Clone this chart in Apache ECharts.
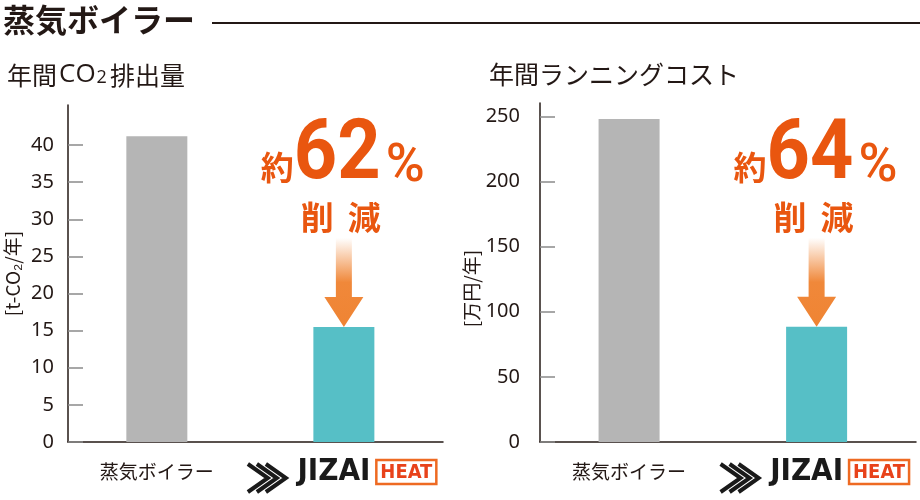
<!DOCTYPE html>
<html><head><meta charset="utf-8">
<script src="https://cdn.jsdelivr.net/npm/echarts@6/dist/echarts.min.js"></script>
<style>html,body{margin:0;padding:0;background:#fff}#c{width:920px;height:500px}</style>
</head><body><div id="c"></div>
<script>
// ---- data ----
const categories = ['蒸気ボイラー', 'JIZAI HEAT'];
const co2Values = [41.2, 15.5];
const costValues = [248, 88.5];
const co2Ticks = [0, 5, 10, 15, 20, 25, 30, 35, 40];
const costTicks = [0, 50, 100, 150, 200, 250];
const reductions = ['62', '64'];
const barColors = ['#b5b5b5', '#56bfc6'];
const mainTitle = '蒸気ボイラー';
const panelTitles = ['年間{c|CO}{s|2}排出量', '年間ランニングコスト'];
const axisNames = ['[t-CO₂/年]', '[万円/年]'];

const JP = '"Noto Sans CJK JP", sans-serif';
const NUM = '"Noto Sans", "Open Sans", sans-serif';
const NARROW = '"Liberation Sans Narrow", "DejaVu Sans Condensed", "Roboto Condensed", Roboto, sans-serif';
const INK = '#231815';
const ORANGE = '#e9560f';

const chart = echarts.init(document.getElementById('c'));

function xAxisCfg(gi) {
  return {
    type: 'value', gridIndex: gi, min: -0.475, max: 1.53,
    axisLine: { show: true, onZero: false, lineStyle: { color: INK, width: 1.5 } },
    axisTick: { show: false },
    splitLine: { show: false },
    axisLabel: {
      customValues: [0, 1], margin: 14,
      formatter: v => {
        const i = Math.round(v);
        return i === 0 ? '{n|' + categories[0] + '}' : '{sp|}{j|JIZAI}{h|HEAT}';
      },
      rich: {
        n: { fontSize: 19, color: INK, fontFamily: JP, lineHeight: 32 },
        sp: { width: 46, height: 32 },
        j: { fontSize: 31, fontWeight: 'bold', color: '#1a1a1a', fontFamily: NARROW, lineHeight: 32, padding: [0, 6, 0, 0] },
        h: { fontSize: 20, fontWeight: 'bold', color: '#e8421a', fontFamily: NARROW, borderColor: '#ee6a22', borderWidth: 2.5, padding: [3, 4, 1, 4], lineHeight: 20 }
      }
    }
  };
}
function yAxisCfg(gi, max, ticks, margin, name, gap, pad) {
  return {
    type: 'value', gridIndex: gi, min: 0, max: max,
    axisLine: { show: true, onZero: false, lineStyle: { color: INK, width: 1.5 } },
    axisTick: { show: true, inside: true, length: 15, customValues: ticks, lineStyle: { color: '#8a8a8a', width: 1.5 } },
    axisLabel: { customValues: ticks, margin: margin, fontSize: 20, color: INK, fontFamily: NUM },
    splitLine: { show: false },
    name: name, nameLocation: 'middle', nameGap: gap,
    nameTextStyle: { fontSize: 19, color: INK, fontFamily: JP, padding: pad }
  };
}
function barSeries(gi, vals) {
  return {
    type: 'bar', xAxisIndex: gi, yAxisIndex: gi, barWidth: 61,
    data: vals.map((v, i) => ({ value: [i, v], itemStyle: { color: barColors[i] } })),
    silent: true
  };
}

const subStyle = {
  fontSize: 25, fontWeight: 'normal', fontFamily: JP, color: INK,
  rich: {
    c: { fontSize: 26, fontFamily: '"Open Sans", "Noto Sans", sans-serif', color: INK, padding: [0, 1, 0, 2] },
    s: { fontSize: 18, fontFamily: '"Open Sans", "Noto Sans", sans-serif', color: INK, padding: [6, 3, 0, 0] }
  }
};
const option = {
  animation: false,
  backgroundColor: '#fff',
  title: [
    { text: mainTitle, left: 3, top: 4, padding: 0, textStyle: { fontSize: 32, fontWeight: 'bold', fontFamily: JP, color: INK } },
    { text: panelTitles[0], left: 7, top: 62, padding: 0, textStyle: subStyle },
    { text: panelTitles[1], left: 489, top: 62, padding: 0, textStyle: subStyle }
  ],
  grid: [
    { left: 68, right: 477, top: 105, bottom: 58 },
    { left: 540, right: 4, top: 103, bottom: 58 }
  ],
  xAxis: [xAxisCfg(0), xAxisCfg(1)],
  yAxis: [
    yAxisCfg(0, 45.4, co2Ticks, 14, axisNames[0], 46, [0, 0, 0, 0]),
    yAxisCfg(1, 260.3, costTicks, 20, axisNames[1], 58, [0, 32, 0, 0])
  ],
  series: [barSeries(0, co2Values), barSeries(1, costValues)]
};
chart.setOption(option);

const graphics = [
  { type: 'line', shape: { x1: 212, y1: 23, x2: 920, y2: 23 }, style: { stroke: INK, lineWidth: 2 } }
];
[0, 1].forEach(i => {
  const vals = i === 0 ? co2Values : costValues;
  const cx = chart.convertToPixel({ xAxisIndex: i }, 1);
  const tipY = chart.convertToPixel({ yAxisIndex: i }, vals[1]);
  graphics.push({
    type: 'polygon',
    shape: { points: [[cx - 8, tipY - 89], [cx + 8, tipY - 89], [cx + 8, tipY - 30], [cx + 19.5, tipY - 30], [cx, tipY], [cx - 19.5, tipY - 30], [cx - 8, tipY - 30]] },
    style: {
      fill: { type: 'linear', x: 0, y: 0, x2: 0, y2: 1, colorStops: [
        { offset: 0, color: 'rgba(240,136,58,0)' },
        { offset: 0.5, color: 'rgba(240,136,58,1)' },
        { offset: 1, color: '#ef8433' }] }
    }
  });
  graphics.push({ type: 'text', x: cx - 83, y: 167, style: { text: '約', fill: ORANGE, font: 'bold 33px ' + JP, verticalAlign: 'middle', align: 'left' } });
  graphics.push({ type: 'text', x: cx - 50, y: 157, scaleX: 0.9, style: { text: reductions[i], fill: ORANGE, font: 'bold 84px Roboto, sans-serif', verticalAlign: 'middle', align: 'left' } });
  graphics.push({ type: 'text', x: cx + 42, y: 168, style: { text: '%', fill: ORANGE, font: '500 53px Roboto, sans-serif', verticalAlign: 'middle', align: 'left' } });
  graphics.push({ type: 'text', x: cx - 43, y: 217, style: { text: '削', fill: ORANGE, font: 'bold 33px ' + JP, verticalAlign: 'middle', align: 'left' } });
  graphics.push({ type: 'text', x: cx + 4, y: 217, style: { text: '減', fill: ORANGE, font: 'bold 33px ' + JP, verticalAlign: 'middle', align: 'left' } });
  // chevron mark of logo
  const lx = cx - 98;
  [0, 9, 18].forEach(d => {
    graphics.push({ type: 'polyline', shape: { points: [[lx + 2 + d, 464], [lx + 22 + d, 478], [lx + 2 + d, 492]] }, style: { stroke: '#1a1a1a', lineWidth: 4, fill: null } });
  });
});
chart.setOption({ graphic: graphics });
</script>
</body></html>
